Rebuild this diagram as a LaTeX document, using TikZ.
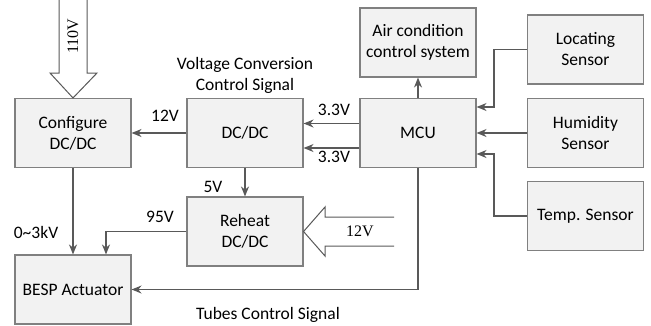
\documentclass[tikz,border=0pt]{standalone}
\usepackage{fontspec}
\setmainfont{Carlito}
\newfontfamily\serifnum{Liberation Serif}
\usetikzlibrary{arrows.meta}
\definecolor{boxfill}{HTML}{F2F2F2}
\definecolor{boxline}{HTML}{808080}
\definecolor{wire}{HTML}{595959}
\begin{document}
\begin{tikzpicture}[x=1pt,y=-1pt,
  blk/.style={draw=boxline,fill=boxfill,line width=1.1pt,minimum width=116pt,minimum height=69pt,align=center,font=\fontsize{17.5}{21}\selectfont,inner sep=0pt},
  lbl/.style={font=\fontsize{17.5}{21}\selectfont,inner sep=0pt,align=center},
  wirearrow/.style={draw=wire,line width=1.3pt,-{Stealth[length=10pt,width=8pt]}},
  hollow/.style={draw=wire,fill=white,line width=1pt}]
\useasboundingbox (0,0) rectangle (651,325);
% blocks
\node[blk] (cfg) at (73,133) {Configure\\DC/DC};
\node[blk] (dcdc) at (245,133) {DC/DC};
\node[blk] (mcu) at (418,133) {MCU};
\node[blk] (air) at (418,42.5) {Air condition\\control system};
\node[blk] (loc) at (585.5,49.5) {Locating\\Sensor};
\node[blk] (hum) at (585.5,133) {Humidity\\Sensor};
\node[blk] (temp) at (585.5,216) {Temp. Sensor};
\node[blk] (reh) at (245,231.5) {Reheat\\DC/DC};
\node[blk] (besp) at (73,289.5) {BESP Actuator};
% hollow arrows
\draw[hollow] (59,-2) -- (59,73) -- (50,73) -- (cfg.north) -- (97,73) -- (87,73) -- (87,-2);
\node[rotate=90,font=\serifnum\fontsize{16}{18}\selectfont,inner sep=0pt] (v110) at (73,36) {110V};
\draw[hollow] (394,217) -- (325,217) -- (325,207) -- (reh.east) -- (325,256) -- (325,246) -- (394,246);
\node[font=\serifnum\fontsize{16}{18}\selectfont,inner sep=0pt] (v12) at (360,231.5) {12V};
% connectors
\draw[wirearrow] (dcdc.west) -- (cfg.east);
\draw[wirearrow] (mcu.west |- 0,123.5) -- (dcdc.east |- 0,123.5);
\draw[wirearrow] (mcu.west |- 0,148) -- (dcdc.east |- 0,148);
\draw[wirearrow] (mcu.north) -- (air.south);
\draw[wirearrow] (loc.west) -| (494,107) -- (mcu.east |- 0,107);
\draw[wirearrow] (hum.west) -- (mcu.east);
\draw[wirearrow] (temp.west) -| (494,154) -- (mcu.east |- 0,154);
\draw[wirearrow] (dcdc.south) -- (reh.north);
\draw[wirearrow] (cfg.south) -- (besp.north);
\draw[wirearrow] (reh.west) -| (106,0 |- besp.north);
\draw[wirearrow] (mcu.south) |- (besp.east);
% labels
\node[lbl] (l12) at (165,116) {12V};
\node[lbl] (l33a) at (334,110) {3.3V};
\node[lbl] (l33b) at (334,157) {3.3V};
\node[lbl] (l5) at (213,187) {5V};
\node[lbl] (l95) at (160,217) {95V};
\node[lbl] (l3k) at (36,232) {0\textasciitilde3kV};
\node[lbl] (ltube) at (268,315) {Tubes Control Signal};
\node[lbl] (lvc) at (245,75) {Voltage Conversion\\Control Signal};
\end{tikzpicture}
\end{document}
